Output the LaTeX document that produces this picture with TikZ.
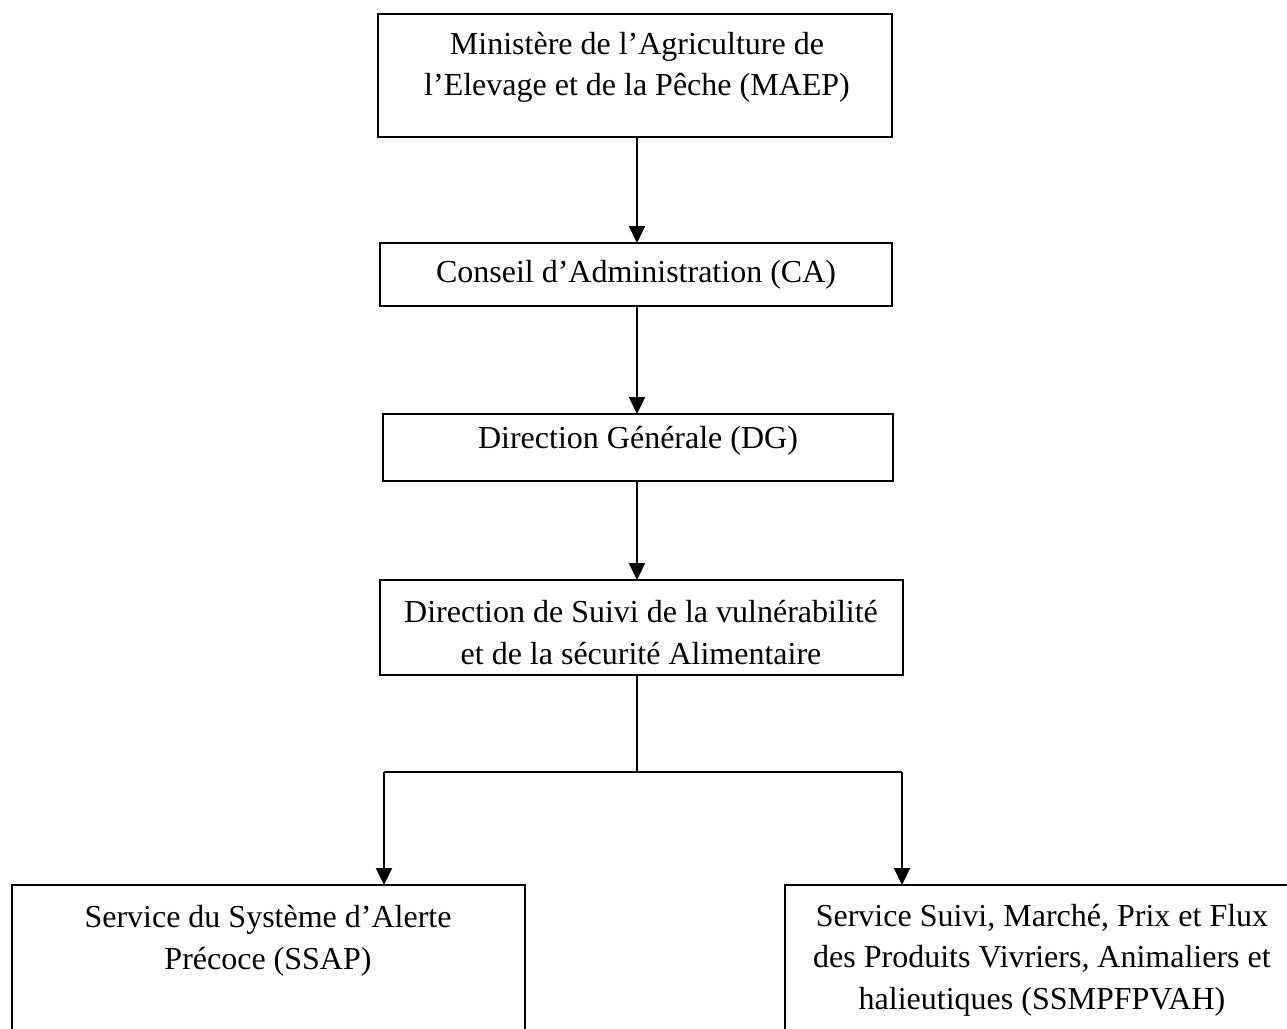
\documentclass[tikz,border=0pt]{standalone}
\usepackage{fontspec}
\setmainfont{Liberation Serif}
\usetikzlibrary{arrows.meta}
\begin{document}
\begin{tikzpicture}[x=1pt,y=-1pt,
  box/.style={draw, line width=1.6pt, rectangle, inner sep=0pt, outer sep=0pt},
  txt/.style={align=center, inner sep=0pt, font=\fontsize{32}{41.5}\selectfont},
  arr/.style={line width=2.2pt, -{Triangle[width=16pt,length=17pt]}},
  ln/.style={line width=1.6pt}]
\useasboundingbox (0,0) rectangle (1287,1028);
\begin{scope}
\clip (0,0) rectangle (1287,1028);
% boxes
\node[box, minimum width=514pt, minimum height=123pt] (maep) at (635,75.5) {};
\node[box, minimum width=512pt, minimum height=63pt] (ca) at (636,274.5) {};
\node[box, minimum width=510pt, minimum height=67pt] (dg) at (638,447.5) {};
\node[box, minimum width=523pt, minimum height=95pt] (dsv) at (641.5,627.5) {};
\node[box, minimum width=513pt, minimum height=200pt] (ssap) at (268.5,985) {};
\node[box, minimum width=520pt, minimum height=200pt] (ssm) at (1045,985) {};
% texts
\node[txt] (maept) at (637,67.5) {Ministère de l’Agriculture de\\l’Elevage et de la Pêche (MAEP)};
\node[txt] (cat) at (636,275) {Conseil d’Administration (CA)};
\node[txt] (dgt) at (638,441) {Direction Générale (DG)};
\node[txt] (dsvt) at (641,632.5) {Direction de Suivi de la vulnérabilité\\et de la sécurité Alimentaire};
\node[txt] (ssapt) at (268,941) {Service du Système d’Alerte\\Précoce (SSAP)};
\node[txt] (ssmt) at (1042,960) {Service Suivi, Marché, Prix et Flux\\des Produits Vivriers, Animaliers et\\halieutiques (SSMPFPVAH)};
% connectors
\coordinate (split) at (637,772);
\coordinate (bl) at (384,772);
\coordinate (br) at (902,772);
\draw[arr] (maep.south -| split) -- (ca.north -| split);
\draw[arr] (ca.south -| split) -- (dg.north -| split);
\draw[arr] (dg.south -| split) -- (dsv.north -| split);
\draw[ln] (dsv.south -| split) -- (split);
\draw[ln] (bl) -- (br);
\draw[arr] (bl) -- (ssap.north -| bl);
\draw[arr] (br) -- (ssm.north -| br);
\end{scope}
\end{tikzpicture}
\end{document}
